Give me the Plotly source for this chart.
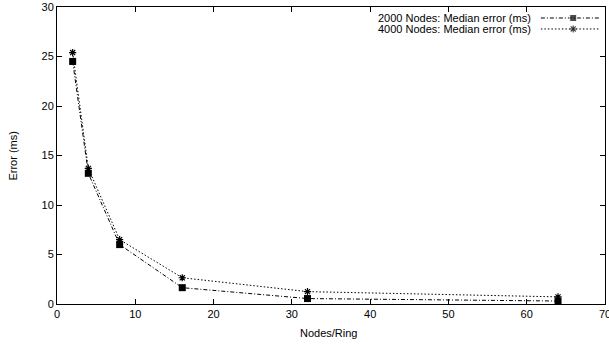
import plotly.graph_objects as go

nodes_per_ring = [2, 4, 8, 16, 32, 64]
err_2000 = [24.5, 13.2, 6.0, 1.65, 0.55, 0.3]
err_4000 = [25.4, 13.7, 6.5, 2.65, 1.25, 0.72]
names = ["2000 Nodes: Median error (ms)", "4000 Nodes: Median error (ms)"]
x_ticks = [0, 10, 20, 30, 40, 50, 60, 70]
y_ticks = [0, 5, 10, 15, 20, 25, 30]

FONT = "Liberation Sans, Arial, sans-serif"
FS = 11
DASH_A = "4px,2px,1px,2px"
DASH_B = "1.5px,2px"

fig = go.Figure()
fig.add_trace(go.Scatter(
    x=nodes_per_ring, y=err_2000, mode="lines+markers", name=names[0],
    line=dict(color="black", width=1, dash=DASH_A),
    marker=dict(symbol="square", size=7, color="black"),
))
fig.add_trace(go.Scatter(
    x=nodes_per_ring, y=err_4000, mode="lines+markers", name=names[1],
    line=dict(color="black", width=1, dash=DASH_B),
    marker=dict(symbol="asterisk-open", size=6, color="black", line=dict(width=1.2, color="black")),
))

# legend samples on an overlay axis (0-1 coordinates over the plot area)
leg_y = [0.963, 0.926]
samp_x = [0.883, 0.942, 0.991]
fig.add_trace(go.Scatter(
    x=samp_x, y=[leg_y[0]] * 3, mode="lines+markers",
    xaxis="x2", yaxis="y2", showlegend=False,
    line=dict(color="black", width=1, dash=DASH_A),
    marker=dict(symbol="square", size=[0, 7, 0], color="black"),
))
fig.add_trace(go.Scatter(
    x=samp_x, y=[leg_y[1]] * 3, mode="lines+markers",
    xaxis="x2", yaxis="y2", showlegend=False,
    line=dict(color="black", width=1, dash=DASH_B),
    marker=dict(symbol="asterisk-open", size=[0, 6, 0], color="black",
                line=dict(width=1.2, color="black")),
))
for yy, nm in zip(leg_y, names):
    fig.add_annotation(xref="x2", yref="y2", x=0.867, y=yy, text=nm, showarrow=False,
                       xanchor="right", yanchor="middle", borderpad=0,
                       font=dict(size=FS, color="black", family=FONT))

fig.add_annotation(xref="paper", yref="paper", x=0.496, y=-0.097, text="Nodes/Ring",
                   showarrow=False, xanchor="center", yanchor="middle",
                   font=dict(size=FS, color="black", family=FONT))
fig.add_annotation(xref="paper", yref="paper", x=-0.082, y=0.5, text="Error (ms)",
                   showarrow=False, xanchor="center", yanchor="middle", textangle=-90,
                   font=dict(size=FS, color="black", family=FONT))

axis_common = dict(
    showgrid=False, zeroline=False, showline=True, linecolor="black", linewidth=1,
    mirror="allticks", ticks="inside", ticklen=5, tickcolor="black", automargin=False,
    tickfont=dict(size=FS, color="black", family=FONT), ticklabeloverflow="allow",
)
fig.update_layout(
    width=609, height=345,
    margin=dict(l=57, r=4, t=7, b=41),
    plot_bgcolor="white", paper_bgcolor="white",
    showlegend=False,
    font=dict(family=FONT, size=FS, color="black"),
    xaxis=dict(range=[0, 70.0001], tickvals=x_ticks, **axis_common),
    yaxis=dict(range=[0, 30.0001], tickvals=y_ticks, **axis_common),
    xaxis2=dict(range=[0, 1], overlaying="x", visible=False),
    yaxis2=dict(range=[0, 1], overlaying="y", visible=False),
)

fig.write_html("out.html", config={"displayModeBar": False},
               post_script="document.body.style.margin='0';document.body.style.overflow='hidden';")
